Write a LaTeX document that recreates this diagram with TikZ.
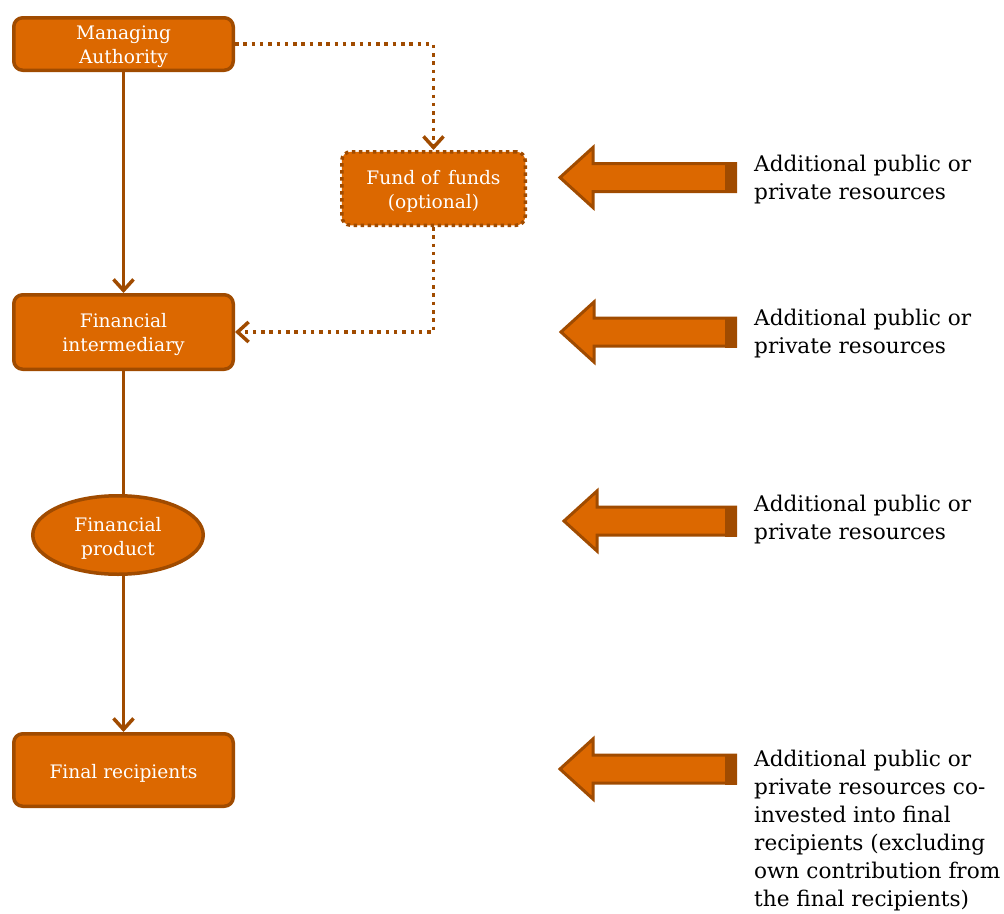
\documentclass[tikz,border=0pt]{standalone}
\usepackage{fontspec}
\setmainfont{DejaVu Serif}
\usetikzlibrary{arrows.meta,shapes.geometric}
\definecolor{orfill}{RGB}{220,104,0}
\definecolor{ordark}{RGB}{160,75,0}
\newcommand\lowerstrut{\rule{0pt}{20pt}}
\tikzset{
  box/.style={draw=ordark, fill=orfill, line width=3.5pt, rounded corners=9pt, text=white,
    align=center, inner sep=0pt, font=\fontsize{18.6}{24}\selectfont},
  dotbox/.style={box, dash pattern=on 3.5pt off 3.5pt},
  oval/.style={ellipse, draw=ordark, fill=orfill, line width=3.5pt, text=white,
    align=center, inner sep=0pt, font=\fontsize{18.6}{24}\selectfont},
  conn/.style={draw=ordark, line width=3.5pt, -{Straight Barb[length=11pt,width=20pt,line width=3.5pt]}},
  plain/.style={draw=ordark, line width=3.5pt},
  dotconn/.style={conn, dash pattern=on 3.5pt off 4.8pt},
  bigarr/.style={draw=ordark, fill=orfill, line width=3pt, line join=miter},
  restext/.style={anchor=west, align=left, inner sep=0pt, font=\fontsize{21.6}{28}\selectfont}
}
\newcommand\resarrow[2]{%
  \path[bigarr] (#1,#2) -- (#1+33,#2-30) -- (#1+33,#2-14) -- (735.5,#2-14)
     -- (735.5,#2+14) -- (#1+33,#2+14) -- (#1+33,#2+30) -- cycle;
  \fill[ordark] (725,#2-15.5) rectangle (737,#2+15.5);
}
\begin{document}
\begin{tikzpicture}[x=1pt,y=-1pt]
\path[use as bounding box] (0,0) rectangle (1004,913);

\node[box, minimum width=219.5pt, minimum height=52.5pt] (ma) at (123.5,44) {\lowerstrut Managing\\Authority};
\node[dotbox, minimum width=183.5pt, minimum height=73.5pt] (fof) at (433.5,188.5) {\lowerstrut Fund of\, funds\\(optional)};
\node[box, minimum width=219.5pt, minimum height=74.5pt] (fi) at (123.5,332) {\lowerstrut Financial\\intermediary};
\node[oval, minimum width=170.5pt, minimum height=78.5pt] (fp) at (118,535) {\lowerstrut Financial\\product};
\node[box, minimum width=219.5pt, minimum height=72.5pt] (fr) at (123.5,770) {\lowerstrut Final recipients};

\draw[conn] (ma.south) -- (fi.north);
\draw[dotconn] (ma.east) -- (ma.east -| fof.north) -- (fof.north);
\draw[dotconn] (fof.south) -- (fof.south |- fi.east) -- (fi.east);
\draw[plain] (fi.south) -- (fi.south |- fp.north);
\draw[conn] (fi.south |- fp.south) -- (fr.north);

\resarrow{560}{177.5}
\resarrow{561}{332}
\resarrow{564}{521}
\resarrow{560}{769}

\node[restext] (t1) at (754,180) {Additional public or\\private resources};
\node[restext] (t2) at (754,334) {Additional public or\\private resources};
\node[restext] (t3) at (754,520) {Additional public or\\private resources};
\node[restext] (t4) at (754,831) {Additional public or\\private resources co-\\invested into final\\recipients (excluding\\own contribution from\\the final recipients)};
\end{tikzpicture}
\end{document}
